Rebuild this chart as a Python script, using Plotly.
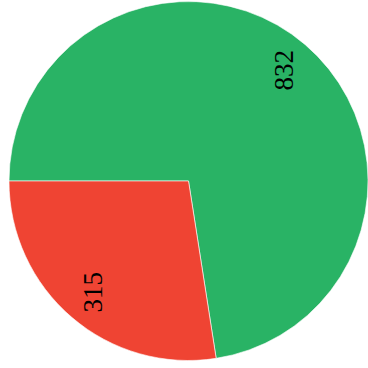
import math
import plotly.graph_objects as go

# Slice data
labels = ["A", "B"]
values = [832, 315]
colors = ["#29b365", "#ef4433"]

W, H = 368, 368
margin = dict(l=9, r=0, t=1, b=7)
start_deg = 270  # first slice begins at 9 o'clock, running clockwise
label_frac = 0.81

fig = go.Figure(
    go.Pie(
        labels=labels,
        values=values,
        sort=False,
        direction="clockwise",
        rotation=start_deg,
        marker=dict(colors=colors, line=dict(color="rgba(255,255,255,0.6)", width=1)),
        textinfo="none",
        hoverinfo="label+value",
        showlegend=False,
    )
)

# Vertical value labels placed along each slice's mid-angle
plot_w = W - margin["l"] - margin["r"]
plot_h = H - margin["t"] - margin["b"]
radius = min(plot_w, plot_h) / 2
total = sum(values)
angle = start_deg
annotations = []
for v in values:
    sweep = 360 * v / total
    mid = math.radians(angle + sweep / 2)
    angle += sweep
    dx = label_frac * radius * math.sin(mid)
    dy = label_frac * radius * math.cos(mid)
    annotations.append(
        dict(
            x=0.5 + dx / plot_w,
            y=0.5 + dy / plot_h,
            xref="paper",
            yref="paper",
            xanchor="center",
            yanchor="middle",
            text=str(v),
            showarrow=False,
            textangle=-90,
            font=dict(family="Liberation Serif", size=27, color="#000000"),
        )
    )

fig.update_layout(
    width=W,
    height=H,
    margin=margin,
    paper_bgcolor="#ffffff",
    plot_bgcolor="#ffffff",
    annotations=annotations,
)

fig.write_html("out.html")
